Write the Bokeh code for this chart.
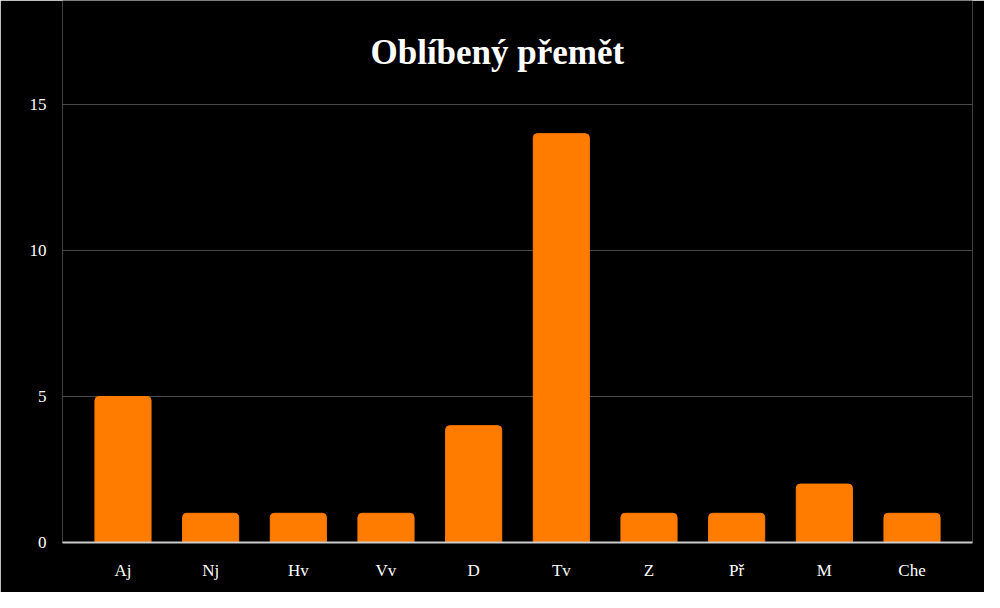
from bokeh.plotting import figure
from bokeh.models import FactorRange, Range1d, ColumnDataSource, FixedTicker, Label
from bokeh.embed import file_html
from bokeh.resources import INLINE

subjects = ["Aj", "Nj", "Hv", "Vv", "D", "Tv", "Z", "Př", "M", "Che"]
counts = [5, 1, 1, 1, 4, 14, 1, 1, 2, 1]
y_ticks = [0, 5, 10, 15]
title_text = "Oblíbený přemět"

src = ColumnDataSource(data=dict(x=subjects, top=counts))

# frame spans the full height above the axis; the value range is extended so that
# 0..15 occupies the same pixels as in the reference and the title fits above it
p = figure(
    width=984, height=592,
    x_range=FactorRange(factors=subjects, range_padding=0.19, range_padding_units="absolute"),
    y_range=Range1d(0, 18.56),
    output_backend="svg", toolbar_location=None,
    background_fill_color="black", border_fill_color="black",
    min_border_left=62, min_border_right=12, min_border_top=0, min_border_bottom=50,
)
p.outline_line_color = None

p.vbar(x="x", top="top", width=0.64, source=src, color="#FF7C00",
       border_radius=(4, 4, 0, 0))

p.add_layout(Label(x=4.77, y=16.78, text=title_text,
                   text_align="center", text_baseline="alphabetic", text_color="white",
                   text_font="Liberation Serif", text_font_size="35px",
                   text_font_style="bold"))

p.xgrid.grid_line_color = None
p.ygrid.grid_line_color = "#4a4a4a"
p.ygrid.grid_line_width = 1
p.yaxis.ticker = FixedTicker(ticks=y_ticks)
p.ygrid.ticker = FixedTicker(ticks=y_ticks[1:])

for ax in (p.xaxis, p.yaxis):
    ax.major_tick_line_color = None
    ax.minor_tick_line_color = None
    ax.major_label_text_color = "white"
    ax.major_label_text_font = "Liberation Serif"
    ax.major_label_text_font_size = "17px"
p.yaxis.axis_line_color = None
p.yaxis.major_label_standoff = 10
p.xaxis.axis_line_color = "#cccccc"
p.xaxis.axis_line_width = 2
p.xaxis.major_label_standoff = 12

open("out.html", "w").write(file_html(p, INLINE))
